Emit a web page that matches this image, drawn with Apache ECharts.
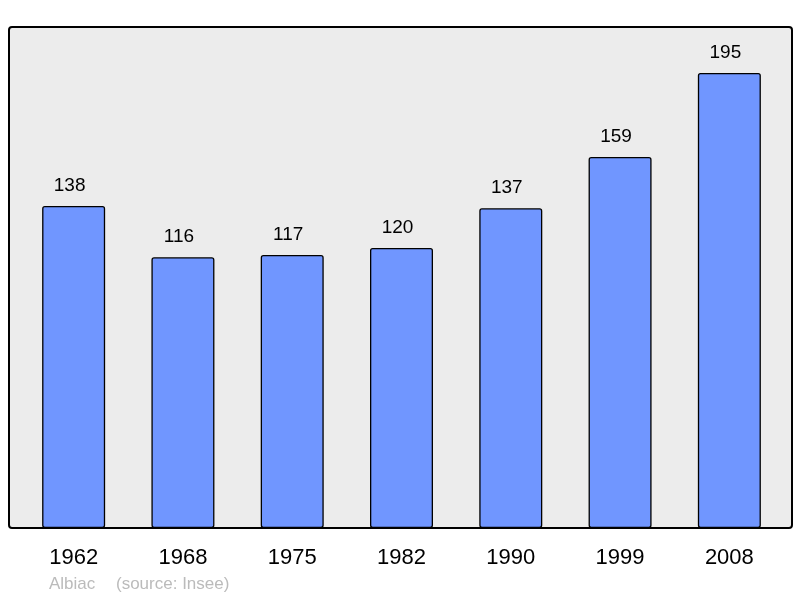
<!DOCTYPE html>
<html>
<head>
<meta charset="utf-8">
<script src="https://cdn.jsdelivr.net/npm/echarts@6/dist/echarts.min.js"></script>
<style>
html, body { margin: 0; padding: 0; background: #fff; }
#chart { width: 800px; height: 598px; }
</style>
</head>
<body>
<div id="chart"></div>
<script>
// population par recensement
const years = ['1962', '1968', '1975', '1982', '1990', '1999', '2008'];
const population = [138, 116, 117, 120, 137, 159, 195];
const footerName = 'Albiac';
const footerSource = '(source: Insee)';

const chart = echarts.init(document.getElementById('chart'));
const font = 'Liberation Sans, Arial, sans-serif';

const option = {
    animation: false,
    backgroundColor: '#ffffff',
    grid: { left: 19, right: 16, top: 27, bottom: 70 },
    xAxis: {
        type: 'category',
        data: years,
        axisLine: { show: false },
        axisTick: { show: false },
        axisLabel: { color: '#000', fontSize: 22, fontFamily: font, margin: 19 }
    },
    yAxis: {
        type: 'value',
        min: 0,
        max: 214.7,
        show: false,
        splitLine: { show: false }
    },
    graphic: [
        {
            type: 'rect',
            z: -10,
            shape: { x: 9, y: 27, width: 783, height: 501, r: 3 },
            style: { fill: '#ececec', stroke: null }
        },
        {
            type: 'rect',
            z: 100,
            silent: true,
            shape: { x: 9, y: 27, width: 783, height: 501, r: 3 },
            style: { fill: 'none', stroke: '#000', lineWidth: 2 }
        },
        {
            type: 'text',
            left: 49,
            top: 576,
            style: { text: footerName, fill: '#bbbbbb', fontSize: 17, fontFamily: font }
        },
        {
            type: 'text',
            left: 116,
            top: 576,
            style: { text: footerSource, fill: '#bbbbbb', fontSize: 17, fontFamily: font }
        }
    ],
    series: [{
        type: 'bar',
        data: population,
        barWidth: 63,
        itemStyle: {
            color: '#7096ff',
            borderColor: '#000',
            borderWidth: 1.3,
            borderRadius: 2
        },
        label: {
            show: true,
            position: 'top',
            distance: 11,
            offset: [-4, 0],
            color: '#000',
            fontSize: 19,
            fontFamily: font
        }
    }]
};

chart.setOption(option);
</script>
</body>
</html>
